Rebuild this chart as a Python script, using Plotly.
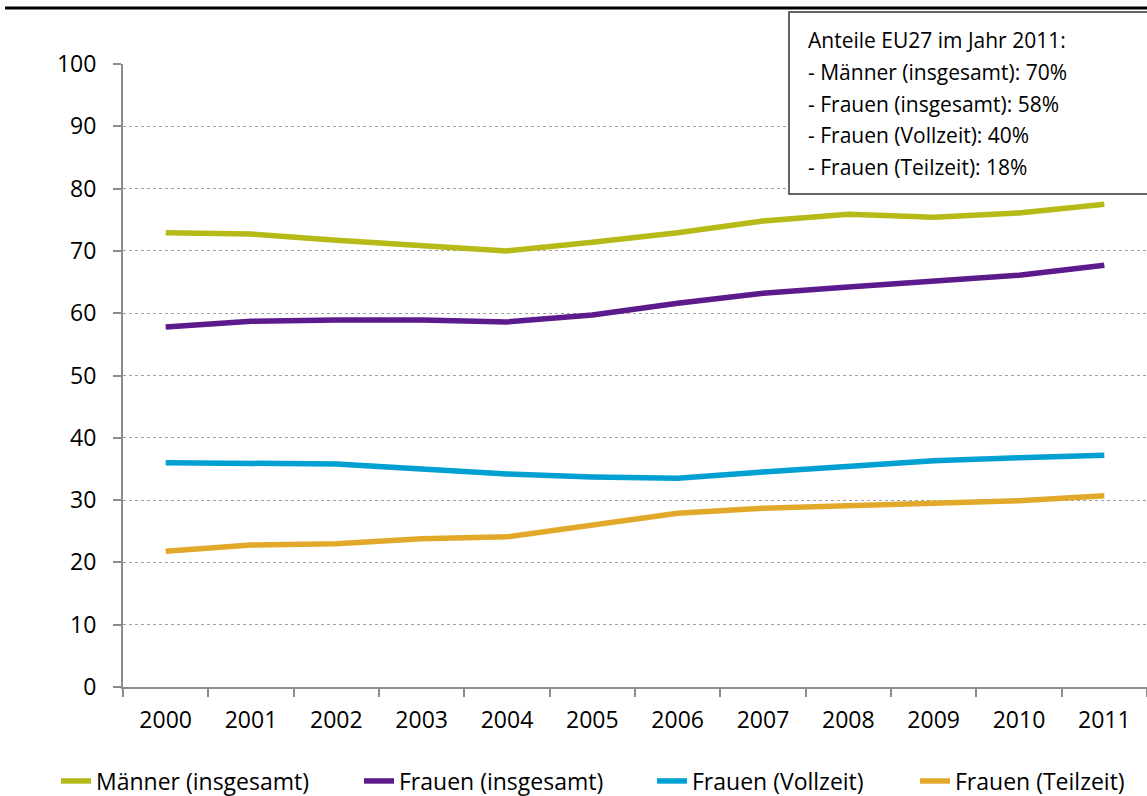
import plotly.graph_objects as go

years = ["2000", "2001", "2002", "2003", "2004", "2005", "2006", "2007", "2008", "2009", "2010", "2011"]
maenner_insg = [72.9, 72.7, 71.7, 70.9, 70.0, 71.4, 72.9, 74.8, 75.9, 75.4, 76.1, 77.5]
frauen_insg = [57.8, 58.7, 58.9, 58.9, 58.6, 59.7, 61.6, 63.2, 64.2, 65.2, 66.1, 67.7]
frauen_voll = [36.0, 35.8, 35.8, 35.0, 34.2, 33.7, 33.5, 34.5, 35.5, 36.3, 36.8, 37.2]
frauen_teil = [21.8, 22.8, 23.0, 23.8, 24.1, 26.0, 27.9, 28.7, 29.1, 29.4, 29.9, 30.7]

series_names = ["Männer (insgesamt)", "Frauen (insgesamt)", "Frauen (Vollzeit)", "Frauen (Teilzeit)"]
series_values = [maenner_insg, frauen_insg, frauen_voll, frauen_teil]
series_colors = ["#B5BA17", "#5C1A8C", "#00A0D2", "#E2A82A"]

info_lines = [
    "Anteile EU27 im Jahr 2011:",
    "- Männer (insgesamt): 70%",
    "- Frauen (insgesamt): 58%",
    "- Frauen (Vollzeit): 40%",
    "- Frauen (Teilzeit): 18%",
]

FONT = "Open Sans"
W, H = 1147, 796
ML, MR, MT, MB = 123, 0, 64, 109
PW, PH = W - ML - MR, H - MT - MB

def px_x(p):
    return (p - ML) / PW

def px_y(p):
    return (H - MB - p) / PH

legend_text_x = [97, 400, 693, 956]
legend_keys = ["legend", "legend2", "legend3", "legend4"]

fig = go.Figure()
for name, vals, col, lk in zip(series_names, series_values, series_colors, legend_keys):
    fig.add_trace(go.Scatter(x=years, y=vals, name=name, mode="lines", legend=lk,
                             line=dict(color=col, width=5.5)))

shapes = [
    dict(type="line", xref="paper", yref="paper", x0=px_x(5), x1=px_x(W), y0=px_y(8), y1=px_y(8),
         line=dict(color="black", width=3)),
    dict(type="rect", xref="paper", yref="paper", x0=px_x(789), x1=px_x(W + 5), y0=px_y(194), y1=px_y(12),
         line=dict(color="#333333", width=1.5), fillcolor="white", layer="above"),
]
annotations = []
for i, t in enumerate(info_lines):
    annotations.append(dict(text=t, xref="paper", yref="paper", x=px_x(806), y=px_y(40 + i * 31.8),
                            xanchor="left", yanchor="middle", showarrow=False,
                            font=dict(family=FONT, size=21, color="black")))

legends = {}
for lk, tx in zip(legend_keys, legend_text_x):
    legends[lk] = dict(orientation="h", xref="container", yref="container",
                       x=(tx - 41) / W, y=(H - 781) / H, xanchor="left", yanchor="middle",
                       font=dict(family=FONT, size=23, color="black"), bgcolor="rgba(0,0,0,0)",
                       itemwidth=30)

fig.update_layout(
    width=W, height=H,
    margin=dict(l=ML, r=MR, t=MT, b=MB, autoexpand=False),
    paper_bgcolor="white", plot_bgcolor="white",
    font=dict(family=FONT, size=23, color="black"),
    shapes=shapes, annotations=annotations,
    showlegend=True,
    xaxis=dict(type="category", range=[-0.5, 11.5], showline=True, linecolor="#8c8c8c", linewidth=2,
               ticks="outside", tickson="boundaries", ticklen=8, tickcolor="#8c8c8c", tickwidth=2,
               showgrid=False, ticklabelstandoff=11, fixedrange=True, automargin=False),
    yaxis=dict(range=[0, 100], tickvals=list(range(0, 101, 10)), showline=True, linecolor="#8c8c8c",
               linewidth=2, ticks="outside", ticklen=8, tickcolor="#8c8c8c", tickwidth=2,
               showgrid=True, gridcolor="#a0a0a0", gridwidth=1, griddash="dot", zeroline=False,
               ticklabelstandoff=12, fixedrange=True, automargin=False),
    **legends,
)

fig.write_html("out.html", config={"displayModeBar": False},
               post_script="document.body.style.margin='0';")
